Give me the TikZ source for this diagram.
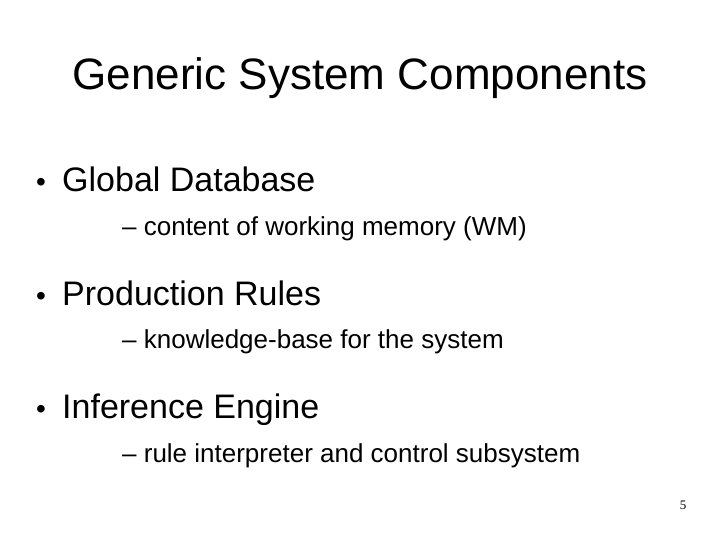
\documentclass[tikz,border=0pt]{standalone}
\usepackage{fontspec}
\setmainfont{Liberation Sans}
\newfontfamily\serifnum{Liberation Serif}
\begin{document}
\begin{tikzpicture}[x=1pt,y=-1pt,
  title/.style={anchor=base,font=\fontsize{44}{48}\selectfont,inner sep=0},
  bul/.style={anchor=base west,font=\fontsize{34}{38}\selectfont,inner sep=0},
  dot/.style={anchor=base,font=\fontsize{28}{30}\selectfont,inner sep=0},
  sub/.style={anchor=base west,font=\fontsize{26}{30}\selectfont,inner sep=0}]
\useasboundingbox (0,0) rectangle (720,540);
\node[title] (t) at (360,90) {Generic System Components};
\node[dot] (d1) at (41,192) {•};
\node[bul] (b1) at (62,192) {Global Database};
\node[sub] (s1) at (122,236) {– content of working memory (WM)};
\node[dot] (d2) at (41,305) {•};
\node[bul] (b2) at (62,305) {Production Rules};
\node[sub] (s2) at (122,348) {– knowledge-base for the system};
\node[dot] (d3) at (41,418) {•};
\node[bul] (b3) at (62,418) {Inference Engine};
\node[sub] (s3) at (122,462) {– rule interpreter and control subsystem};
\node[anchor=base,font=\serifnum\fontsize{13}{14}\selectfont,inner sep=0] (n) at (683,509) {5};
\end{tikzpicture}
\end{document}
